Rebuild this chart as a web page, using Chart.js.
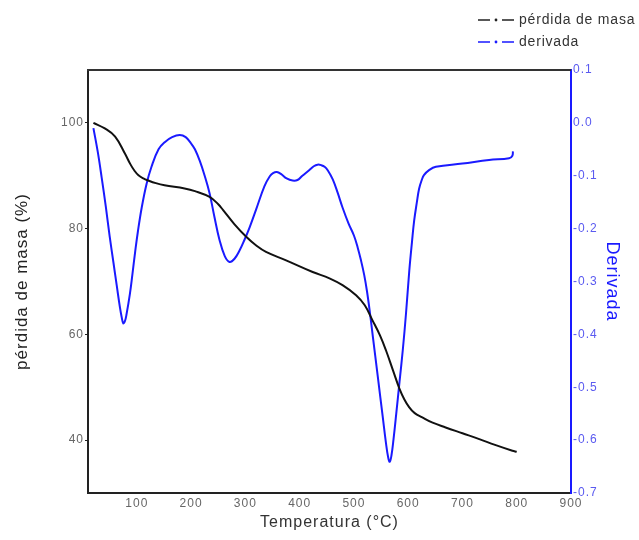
<!DOCTYPE html>
<html>
<head>
<meta charset="utf-8">
<script src="https://cdn.jsdelivr.net/npm/chart.js@4"></script>
<style>
  html, body { margin: 0; padding: 0; background: #fff; }
  canvas { display: block; }
</style>
</head>
<body>
<canvas id="c" width="639" height="540"></canvas>
<script>
// ---- data ----
const seriesNames = ['pérdida de masa', 'derivada'];
const axisTitles = { x: 'Temperatura (°C)', left: 'pérdida de masa (%)', right: 'Derivada' };

const tgTemp = [20, 41, 60, 78, 88, 96, 103, 112, 121, 135, 151, 188, 207, 234, 250, 259, 280, 302, 320, 338, 375, 424, 455, 479, 504, 520, 534, 548, 559, 572, 584, 593, 602, 612, 626, 645, 669, 700, 731, 760, 792, 800];
const tgMass = [100.0, 98.95, 97.4, 94.2, 92.2, 90.9, 90.1, 89.5, 89.1, 88.6, 88.2, 87.6, 87.1, 86.0, 84.6, 83.5, 80.8, 78.4, 76.8, 75.6, 74.0, 71.8, 70.6, 69.3, 67.4, 65.5, 62.7, 59.8, 57.0, 53.2, 49.7, 47.7, 46.2, 45.1, 44.3, 43.3, 42.4, 41.3, 40.2, 39.1, 38.0, 37.8];

const dtgTemp = [20, 28, 35, 43, 50, 57, 63, 69, 72, 75, 78, 81, 87, 92, 97, 102, 109, 118, 127, 140, 152, 165, 179, 190, 200, 207, 216, 225, 234, 243, 252, 262, 271, 280, 289, 298, 308, 320, 335, 345, 351, 358, 366, 376, 387, 396, 405, 418, 426, 433, 440, 446, 452, 461, 470, 479, 490, 500, 507, 513, 519, 524, 529, 535, 544, 553, 559, 563, 566, 569, 573, 578, 584, 590, 596, 602, 607, 611, 616, 620, 625, 629, 639, 651, 700, 749, 786, 792, 793];
const dtgValue = [-0.010, -0.055, -0.102, -0.160, -0.215, -0.265, -0.308, -0.350, -0.367, -0.379, -0.375, -0.362, -0.325, -0.285, -0.243, -0.205, -0.160, -0.115, -0.083, -0.050, -0.036, -0.027, -0.023, -0.027, -0.039, -0.050, -0.072, -0.100, -0.133, -0.178, -0.220, -0.252, -0.263, -0.257, -0.242, -0.222, -0.197, -0.163, -0.120, -0.101, -0.095, -0.093, -0.097, -0.105, -0.109, -0.108, -0.100, -0.089, -0.082, -0.079, -0.080, -0.083, -0.090, -0.107, -0.132, -0.160, -0.190, -0.213, -0.236, -0.260, -0.288, -0.318, -0.355, -0.405, -0.480, -0.555, -0.605, -0.632, -0.641, -0.630, -0.598, -0.550, -0.490, -0.430, -0.360, -0.280, -0.225, -0.185, -0.150, -0.125, -0.108, -0.099, -0.089, -0.083, -0.077, -0.070, -0.067, -0.062, -0.054];

const xTicks = [100, 200, 300, 400, 500, 600, 700, 800, 900];
const leftTicks = [40, 60, 80, 100];
const rightTicks = [0.1, 0.0, -0.1, -0.2, -0.3, -0.4, -0.5, -0.6, -0.7];
const xRange = [10, 900];
const leftRange = [30, 110];
const rightRange = [-0.7, 0.1];

// ---- build ----
const tgPoints = tgTemp.map((t, i) => ({ x: t, y: tgMass[i] }));
const dtgPoints = dtgTemp.map((t, i) => ({ x: t, y: dtgValue[i] }));
const FONT = '"Liberation Sans", Arial, sans-serif';

const frameAndLegend = {
  id: 'frameAndLegend',
  beforeDraw(chart) {
    chart.ctx.letterSpacing = '1px';
  },
  afterDraw(chart) {
    const ctx = chart.ctx;
    const a = chart.chartArea;
    ctx.save();
    ctx.strokeStyle = '#333';
    ctx.lineWidth = 2;
    ctx.beginPath();
    ctx.moveTo(a.left - 1, a.top);
    ctx.lineTo(a.right, a.top);
    ctx.stroke();
    const rows = [
      { name: seriesNames[0], color: '#222', y: 20 },
      { name: seriesNames[1], color: '#1a1aff', y: 42 }
    ];
    ctx.font = '14px ' + FONT;
    ctx.textBaseline = 'middle';
    ctx.letterSpacing = '0.8px';
    rows.forEach(r => {
      ctx.strokeStyle = r.color;
      ctx.fillStyle = r.color;
      ctx.lineWidth = 1.5;
      ctx.beginPath();
      ctx.moveTo(478, r.y); ctx.lineTo(490, r.y);
      ctx.moveTo(502, r.y); ctx.lineTo(514, r.y);
      ctx.stroke();
      ctx.beginPath();
      ctx.arc(496, r.y, 1.4, 0, Math.PI * 2);
      ctx.fill();
      ctx.fillStyle = '#333';
      ctx.fillText(r.name, 519, r.y);
    });
    ctx.restore();
  }
};

new Chart(document.getElementById('c'), {
  type: 'line',
  data: {
    datasets: [
      {
        label: seriesNames[0],
        data: tgPoints,
        yAxisID: 'y',
        borderColor: '#111',
        borderWidth: 2,
        pointRadius: 0,
        fill: false,
        tension: 0.4
      },
      {
        label: seriesNames[1],
        data: dtgPoints,
        yAxisID: 'y1',
        borderColor: '#1a1aff',
        borderWidth: 2,
        pointRadius: 0,
        fill: false,
        tension: 0.4
      }
    ]
  },
  options: {
    responsive: false,
    animation: false,
    events: [],
    layout: { padding: { top: 70, left: 0, right: 0, bottom: 0 } },
    plugins: { legend: { display: false }, tooltip: { enabled: false } },
    scales: {
      x: {
        type: 'linear',
        min: xRange[0],
        max: xRange[1],
        afterBuildTicks: s => { s.ticks = xTicks.map(v => ({ value: v })); },
        afterFit: s => { s.height = 47; },
        grid: { display: false, drawTicks: false },
        border: { display: true, color: '#222', width: 2 },
        ticks: {
          color: '#666',
          font: { family: FONT, size: 12 },
          padding: 3,
          maxRotation: 0,
          autoSkip: false,
          callback: v => String(v)
        },
        title: {
          display: true,
          text: axisTitles.x,
          color: '#333',
          font: { family: FONT, size: 16 },
          padding: { top: 0, bottom: 7.5 }
        }
      },
      y: {
        type: 'linear',
        position: 'left',
        min: leftRange[0],
        max: leftRange[1],
        afterBuildTicks: s => { s.ticks = leftTicks.map(v => ({ value: v })); },
        afterFit: s => { s.width = 88; },
        grid: { display: true, drawOnChartArea: false, tickLength: 3, color: '#222', lineWidth: 1 },
        border: { display: true, color: '#222', width: 2 },
        ticks: {
          color: '#666',
          font: { family: FONT, size: 12 },
          padding: 1,
          autoSkip: false,
          callback: v => String(v)
        },
        title: {
          display: true,
          text: axisTitles.left,
          color: '#222',
          font: { family: FONT, size: 17 },
          padding: { top: 12, bottom: 0 }
        }
      },
      y1: {
        type: 'linear',
        position: 'right',
        min: rightRange[0],
        max: rightRange[1],
        afterBuildTicks: s => { s.ticks = rightTicks.map(v => ({ value: v })); },
        afterFit: s => { s.width = 68; },
        grid: { display: false, drawTicks: false },
        border: { display: true, color: '#1a1aff', width: 2 },
        ticks: {
          color: '#5a5af0',
          font: { family: FONT, size: 12 },
          padding: 2,
          autoSkip: false,
          callback: v => (Math.abs(v) < 1e-9 ? 0 : v).toFixed(1)
        },
        title: {
          display: true,
          text: axisTitles.right,
          color: '#1a1aff',
          font: { family: FONT, size: 18 },
          padding: { top: 16, bottom: 0 }
        }
      }
    }
  },
  plugins: [frameAndLegend]
});
</script>
</body>
</html>
